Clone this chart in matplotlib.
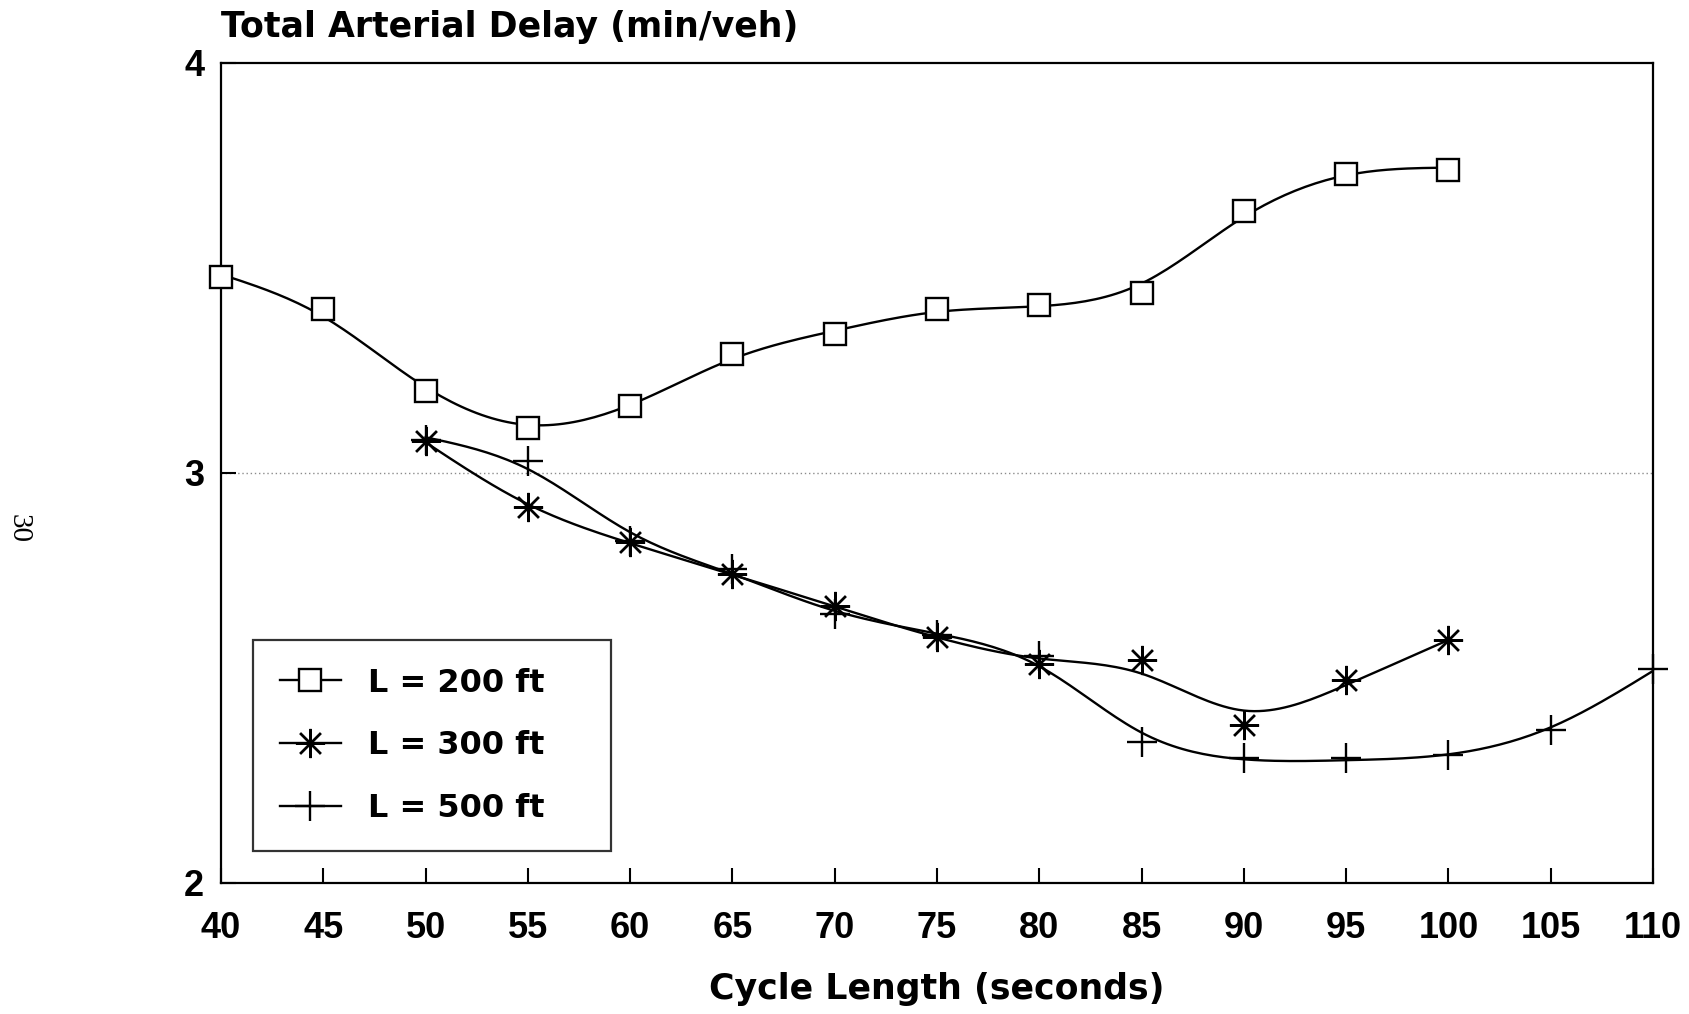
"""Total arterial delay versus cycle length for three link lengths."""
import matplotlib
import matplotlib.pyplot as plt
import numpy as np
from matplotlib.lines import Line2D

matplotlib.use("Agg")

cycle_200 = [40, 45, 50, 55, 60, 65, 70, 75, 80, 85, 90, 95, 100]
delay_200 = [3.478, 3.40, 3.20, 3.11, 3.163, 3.29, 3.34, 3.40, 3.41, 3.44, 3.64, 3.73, 3.74]

cycle_300 = [50, 55, 60, 65, 70, 75, 80, 85, 90, 95, 100]
delay_300 = [3.079, 2.916, 2.832, 2.753, 2.675, 2.60, 2.535, 2.543, 2.386, 2.496, 2.593]

cycle_500 = [50, 55, 60, 65, 70, 75, 80, 85, 90, 95, 100, 105, 110]
delay_500 = [3.08, 3.03, 2.835, 2.765, 2.656, 2.604, 2.553, 2.344, 2.305, 2.305, 2.313, 2.373, 2.522]

labels = ["L = 200 ft", "L = 300 ft", "L = 500 ft"]
x_ticks = list(range(40, 111, 5))
y_ticks = [2, 3, 4]

FONT = ["Liberation Sans", "DejaVu Sans"]
WIDE = ["DejaVu Sans"]


def smooth_curve(x, y, p=0.05, sub=20):
    """Penalised smoother through the points (like a smoothing spline)."""
    x = np.asarray(x, float)
    y = np.asarray(y, float)
    spacing = x[1] - x[0]
    step = 1.0 / sub
    u = (x - x[0]) / spacing
    uf = np.arange(0, u[-1] + step / 2, step)
    n = len(uf)
    w = np.zeros(n)
    yy = np.zeros(n)
    idx = np.rint(u / step).astype(int)
    w[idx] = 1.0
    yy[idx] = y
    D = np.diff(np.eye(n), 2, axis=0)
    lam = p / step ** 3
    z = np.linalg.solve(np.diag(w) + lam * D.T @ D, w * yy)
    return x[0] + uf * spacing, z


fig = plt.figure(figsize=(16.89, 10.14), dpi=100)
ax = fig.add_axes([221 / 1689, 1 - 883 / 1014, 1432 / 1689, 820 / 1014])

series = [
    (cycle_200, delay_200, dict(marker="s", ms=16, mfc="white")),
    (cycle_300, delay_300, dict(marker=(8, 2, 0), ms=21)),
    (cycle_500, delay_500, dict(marker="+", ms=21)),
]

handles = []
for (xs, ys, mk), lab in zip(series, labels):
    xf, yf = smooth_curve(xs, ys)
    ax.plot(xf, yf, color="black", lw=1.7, zorder=2)
    ax.plot(xs, ys, ls="none", color="black", mec="black", mew=1.7,
            zorder=3, clip_on=False, **mk)
    handles.append(Line2D([], [], color="black", lw=1.7, mec="black",
                          mew=1.7, **mk))

ax.axhline(3, color="0.55", lw=1, ls=(0, (1, 2)), zorder=1)

ax.set_xlim(40, 110)
ax.set_ylim(2, 4)
ax.set_xticks(x_ticks)
ax.set_yticks(y_ticks)
ax.tick_params(direction="in", length=11, width=1.5)
ax.tick_params(axis="x", pad=20)
ax.tick_params(axis="y", pad=12)
for lbl in ax.get_xticklabels() + ax.get_yticklabels():
    lbl.set_family(FONT)
    lbl.set_fontweight("bold")
    lbl.set_fontsize(26)
for sp in ax.spines.values():
    sp.set_linewidth(1.6)

leg = ax.legend(handles, labels, loc="lower left",
                bbox_to_anchor=(0.0223, 0.039, 0.25, 0.2), borderaxespad=0,
                mode="expand", frameon=True, fancybox=False,
                edgecolor="black", handlelength=1.9, handletextpad=0.85,
                labelspacing=0.99, borderpad=0.85,
                prop=dict(family=WIDE, weight="bold", size=23))
leg.get_frame().set_linewidth(1.6)

fig.text(221 / 1689, 1 - 27 / 1014, "Total Arterial Delay (min/veh)",
         family=WIDE, fontweight="bold", fontsize=25, va="center", ha="left")
fig.text(937 / 1689, 1 - 989 / 1014, "Cycle Length (seconds)",
         family=WIDE, fontweight="bold", fontsize=25, va="center", ha="center")
fig.text(19 / 1689, 1 - 528 / 1014, "30", family=["Liberation Serif"],
         fontsize=21, rotation=-90, va="center", ha="center")

fig.savefig("out.png", dpi=100)
